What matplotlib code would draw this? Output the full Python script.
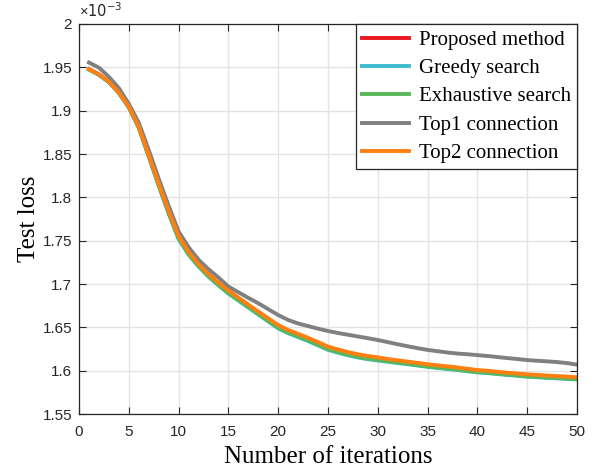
import matplotlib
matplotlib.use("Agg")
import matplotlib.pyplot as plt

iterations = list(range(1, 51))

proposed = [1.9477, 1.9417, 1.9332, 1.9207, 1.9042, 1.8808, 1.8478, 1.8143, 1.7823, 1.7528,
            1.7348, 1.7211, 1.7093, 1.6993, 1.6898, 1.6818, 1.6738, 1.6658, 1.6578, 1.6498,
            1.6443, 1.6398, 1.6353, 1.6303, 1.6251, 1.6218, 1.6188, 1.6163, 1.6143, 1.6128,
            1.6113, 1.6098, 1.6083, 1.6068, 1.6053, 1.6040, 1.6028, 1.6016, 1.6001, 1.5988,
            1.5980, 1.5969, 1.5958, 1.5949, 1.5938, 1.5932, 1.5925, 1.5919, 1.5913, 1.5906]

greedy = [1.9475, 1.9413, 1.9328, 1.9203, 1.9037, 1.8801, 1.8471, 1.8136, 1.7816, 1.7520,
          1.7340, 1.7203, 1.7085, 1.6985, 1.6890, 1.6810, 1.6729, 1.6648, 1.6568, 1.6488,
          1.6433, 1.6388, 1.6342, 1.6292, 1.6241, 1.6208, 1.6178, 1.6153, 1.6133, 1.6118,
          1.6104, 1.6089, 1.6075, 1.6060, 1.6045, 1.6032, 1.6020, 1.6008, 1.5994, 1.5981,
          1.5973, 1.5962, 1.5951, 1.5942, 1.5931, 1.5925, 1.5918, 1.5912, 1.5906, 1.5899]

exhaustive = [1.9475, 1.9415, 1.9330, 1.9205, 1.9040, 1.8805, 1.8475, 1.8140, 1.7820, 1.7525,
              1.7345, 1.7208, 1.7090, 1.6990, 1.6895, 1.6815, 1.6735, 1.6655, 1.6575, 1.6495,
              1.6440, 1.6395, 1.6350, 1.6300, 1.6248, 1.6215, 1.6185, 1.6160, 1.6140, 1.6125,
              1.6110, 1.6095, 1.6080, 1.6065, 1.6050, 1.6037, 1.6025, 1.6013, 1.5998, 1.5985,
              1.5977, 1.5966, 1.5955, 1.5946, 1.5935, 1.5929, 1.5922, 1.5916, 1.5910, 1.5903]

top1 = [1.9555, 1.9496, 1.9390, 1.9260, 1.9078, 1.8860, 1.8545, 1.8215, 1.7900, 1.7605,
        1.7425, 1.7280, 1.7170, 1.7075, 1.6970, 1.6905, 1.6840, 1.6778, 1.6710, 1.6642,
        1.6585, 1.6545, 1.6515, 1.6485, 1.6458, 1.6435, 1.6415, 1.6395, 1.6375, 1.6354,
        1.6330, 1.6305, 1.6282, 1.6260, 1.6240, 1.6225, 1.6210, 1.6198, 1.6190, 1.6180,
        1.6170, 1.6158, 1.6146, 1.6135, 1.6123, 1.6115, 1.6108, 1.6100, 1.6088, 1.6070]

top2 = [1.9480, 1.9420, 1.9335, 1.9210, 1.9047, 1.8815, 1.8490, 1.8160, 1.7845, 1.7555,
        1.7370, 1.7230, 1.7115, 1.7015, 1.6925, 1.6843, 1.6762, 1.6683, 1.6605, 1.6527,
        1.6470, 1.6425, 1.6380, 1.6330, 1.6278, 1.6245, 1.6215, 1.6190, 1.6170, 1.6154,
        1.6135, 1.6120, 1.6105, 1.6090, 1.6075, 1.6062, 1.6050, 1.6038, 1.6022, 1.6008,
        1.6000, 1.5988, 1.5977, 1.5968, 1.5958, 1.5952, 1.5945, 1.5938, 1.5932, 1.5925]

series_names = ["Proposed method", "Greedy search", "Exhaustive search",
                "Top1 connection", "Top2 connection"]
series_colors = ["#e8171f", "#3dbcd0", "#58b85a", "#808080", "#ff7f10"]

x_ticks = list(range(0, 55, 5))
y_ticks = [1.55, 1.6, 1.65, 1.7, 1.75, 1.8, 1.85, 1.9, 1.95, 2.0]
y_tick_labels = ["1.55", "1.6", "1.65", "1.7", "1.75", "1.8", "1.85", "1.9", "1.95", "2"]

plt.rcParams['mathtext.fontset'] = 'custom'
plt.rcParams['mathtext.rm'] = 'Liberation Sans'
plt.rcParams['mathtext.it'] = 'Liberation Sans'

fig = plt.figure(figsize=(5.96, 4.70), dpi=100)
ax = fig.add_axes([0.1326, 0.119, 0.8356, 0.830])

for vals, name, col in zip([proposed, greedy, exhaustive, top1, top2], series_names, series_colors):
    ax.plot(iterations, vals, color=col, lw=2.8, label=name)

ax.set_xlim(0, 50)
ax.set_ylim(1.55, 2.0)
ax.set_xticks(x_ticks)
ax.set_yticks(y_ticks)
ax.set_yticklabels(y_tick_labels)
ax.grid(True, color='#e3e3e3', lw=1.0)
ax.set_axisbelow(True)
ax.tick_params(direction='in', top=True, right=True, length=5, width=0.8,
               colors='#262626', labelsize=11, pad=5)
ax.tick_params(axis='x', pad=8)
for lab in ax.get_xticklabels() + ax.get_yticklabels():
    lab.set_fontfamily('Liberation Sans')
for sp in ax.spines.values():
    sp.set_color('#262626')
    sp.set_linewidth(0.9)

ax.set_xlabel("Number of iterations", fontfamily='Liberation Serif', fontsize=18, labelpad=5)
ax.set_ylabel("Test loss", fontfamily='Liberation Serif', fontsize=18, labelpad=2)

ax.text(0.0, 1.01, r'$\times\mathregular{10^{-3}}$', transform=ax.transAxes,
        ha='left', va='bottom', fontsize=10.5, color='#262626')

leg = ax.legend(loc='upper right', prop={'family': 'Liberation Serif', 'size': 15},
                fancybox=False, framealpha=1, edgecolor='#262626', borderaxespad=0,
                handlelength=2.25, labelspacing=0.42, borderpad=0.3, handletextpad=0.45)
leg.get_frame().set_linewidth(0.9)

fig.savefig("out.png", dpi=100)
